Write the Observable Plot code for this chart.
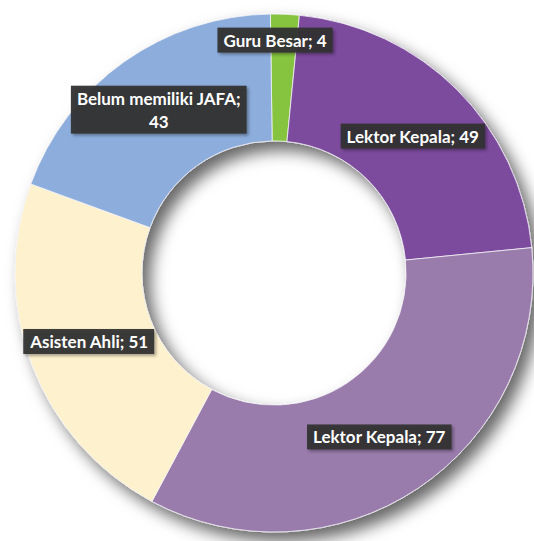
<!DOCTYPE html>
<html><head><meta charset="utf-8">
<script src="https://cdn.jsdelivr.net/npm/d3@7"></script>
<script src="https://cdn.jsdelivr.net/npm/@observablehq/plot@0.6"></script>
<style>body{margin:0;background:#fff;} #chart svg{display:block;}</style>
</head><body><div id="chart"></div>
<script>
// ---- data ----
const categories = ["Guru Besar", "Lektor Kepala", "Lektor Kepala", "Asisten Ahli", "Belum memiliki JAFA"];
const values = [4, 49, 77, 51, 43];
const colors = ["#86c441", "#7d4b9e", "#9a7cac", "#fdf2cd", "#8daedd"];

// ---- layout (not data) ----
const W = 534, H = 541;
const innerRatio = 0.51;
const labelRadius = 0.755;
const startDeg = -0.8;
const labelNudge = [[-0.03, -0.15], [0, 0], [-0.015, 0], [-0.01, -0.01], [-0.01, -0.02]]; // in radius units

const pie = d3.pie().sort(null).value(d => d.value)
  .startAngle(startDeg * Math.PI / 180).endAngle((360 + startDeg) * Math.PI / 180);
const slices = pie(categories.map((c, i) => ({id: i, category: c, value: values[i]})));

const labels = slices.map((s, i) => {
  const a = (s.startAngle + s.endAngle) / 2;
  const raw = `${s.data.category}; ${s.data.value}`;
  const text = raw.length > 20 ? `${s.data.category};\n${s.data.value}` : raw;
  return {
    x: labelRadius * Math.sin(a) + labelNudge[i][0],
    y: -labelRadius * Math.cos(a) + labelNudge[i][1],
    text
  };
});

function donut(index, scales, values, dims) {
  const x = scales.x, y = scales.y;
  const cx = x(0), cy = y(0), R = x(1) - x(0);
  const ns = "http://www.w3.org/2000/svg";
  const g = document.createElementNS(ns, "g");
  const defs = document.createElementNS(ns, "defs");
  defs.innerHTML = `<filter id="ringShadow" x="-20%" y="-20%" width="140%" height="140%">
    <feDropShadow dx="8" dy="9" stdDeviation="8" flood-color="#000" flood-opacity="0.6"/></filter>`;
  g.appendChild(defs);
  const ring = document.createElementNS(ns, "g");
  ring.setAttribute("transform", `translate(${cx},${cy})`);
  ring.setAttribute("filter", "url(#ringShadow)");
  const arc = d3.arc().innerRadius(R * innerRatio).outerRadius(R);
  slices.forEach((s, i) => {
    const p = document.createElementNS(ns, "path");
    p.setAttribute("d", arc(s));
    p.setAttribute("fill", colors[i]);
    p.setAttribute("stroke", "#f4f2f7");
    p.setAttribute("stroke-width", "0.8");
    ring.appendChild(p);
  });
  g.appendChild(ring);
  return g;
}

const R0 = 259;
const plot = Plot.plot({
  width: W, height: H,
  margin: 0,
  x: {domain: [-274 / R0, (W - 274) / R0], range: [0, W], axis: null},
  y: {domain: [-273 / R0, (H - 273) / R0], range: [0, H], axis: null},
  style: {background: "#fff"},
  marks: [
    donut,
    Plot.text(labels, {
      x: "x", y: "y", text: "text",
      fill: "#fff", fontSize: 17, fontWeight: "bold",
      fontFamily: "Lato", lineHeight: 1.35
    })
  ]
});
document.getElementById("chart").appendChild(plot);

// label boxes behind the text
const ns = "http://www.w3.org/2000/svg";
plot.querySelectorAll("g[aria-label='text'] text").forEach(t => {
  const b = t.getBBox();
  const r = document.createElementNS(ns, "rect");
  r.setAttribute("x", b.x - 6);
  r.setAttribute("y", b.y - 2);
  r.setAttribute("width", b.width + 12);
  r.setAttribute("height", b.height + 4);
  r.setAttribute("fill", "#333333");
  r.setAttribute("fill-opacity", "0.95");
  const tr = t.getAttribute("transform");
  if (tr) r.setAttribute("transform", tr);
  r.setAttribute("style", "filter: drop-shadow(2px 2px 1.5px rgba(0,0,0,0.35))");
  t.parentNode.insertBefore(r, t);
});
</script>
</body></html>
